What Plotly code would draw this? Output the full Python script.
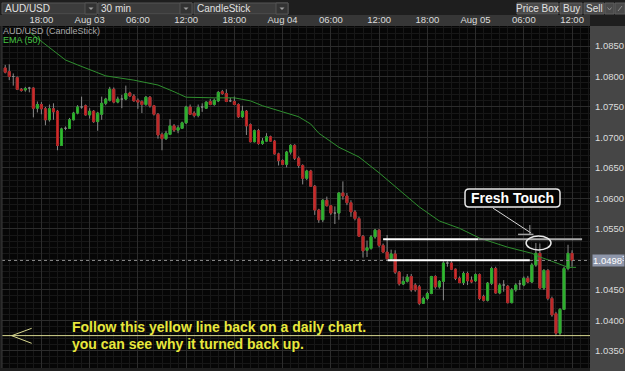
import pandas as pd
import plotly.graph_objects as go

# ---------------- data (AUD/USD, 30 min candles) ----------------
start_time = "2011-08-02 13:30"
n_bars = 142
times = pd.date_range(start_time, periods=n_bars, freq="30min")

opens = [1.0814, 1.0808, 1.0800, 1.0798, 1.0779, 1.0778, 1.0781, 1.0781, 1.0748, 1.0754,
         1.0747, 1.0729, 1.0747, 1.0743, 1.0687, 1.0715, 1.0715, 1.0729, 1.0740, 1.0750,
         1.0752, 1.0737, 1.0743, 1.0726, 1.0738, 1.0756, 1.0761, 1.0779, 1.0758, 1.0763,
         1.0763, 1.0773, 1.0768, 1.0761, 1.0759, 1.0754, 1.0766, 1.0752, 1.0738, 1.0705,
         1.0698, 1.0705, 1.0719, 1.0712, 1.0715, 1.0724, 1.0750, 1.0740, 1.0736, 1.0750,
         1.0748, 1.0759, 1.0754, 1.0760, 1.0775, 1.0772, 1.0760, 1.0759, 1.0754, 1.0734,
         1.0743, 1.0721, 1.0693, 1.0711, 1.0690, 1.0694, 1.0701, 1.0694, 1.0673, 1.0662,
         1.0656, 1.0676, 1.0687, 1.0666, 1.0654, 1.0633, 1.0645, 1.0620, 1.0581, 1.0565,
         1.0597, 1.0588, 1.0576, 1.0576, 1.0609, 1.0604, 1.0593, 1.0578, 1.0567, 1.0538,
         1.0515, 1.0518, 1.0537, 1.0548, 1.0523, 1.0512, 1.0501, 1.0509, 1.0479, 1.0460,
         1.0464, 1.0472, 1.0458, 1.0455, 1.0428, 1.0436, 1.0444, 1.0472, 1.0455, 1.0464,
         1.0494, 1.0494, 1.0484, 1.0469, 1.0462, 1.0477, 1.0466, 1.0465, 1.0475, 1.0439,
         1.0433, 1.0461, 1.0485, 1.0445, 1.0458, 1.0456, 1.0429, 1.0450, 1.0460, 1.0458,
         1.0469, 1.0463, 1.0491, 1.0510, 1.0453, 1.0482, 1.0436, 1.0411, 1.0379, 1.0418,
         1.0485, 1.0510]
highs = [1.0819, 1.0820, 1.0805, 1.0800, 1.0781, 1.0783, 1.0783, 1.0782, 1.0759, 1.0758,
         1.0750, 1.0754, 1.0756, 1.0745, 1.0716, 1.0718, 1.0732, 1.0742, 1.0753, 1.0767,
         1.0754, 1.0748, 1.0745, 1.0742, 1.0767, 1.0765, 1.0783, 1.0782, 1.0767, 1.0770,
         1.0785, 1.0775, 1.0771, 1.0764, 1.0761, 1.0768, 1.0768, 1.0753, 1.0740, 1.0708,
         1.0711, 1.0730, 1.0722, 1.0720, 1.0726, 1.0752, 1.0754, 1.0743, 1.0754, 1.0756,
         1.0759, 1.0763, 1.0764, 1.0776, 1.0778, 1.0779, 1.0765, 1.0767, 1.0756, 1.0752,
         1.0745, 1.0723, 1.0713, 1.0714, 1.0699, 1.0707, 1.0703, 1.0696, 1.0675, 1.0664,
         1.0678, 1.0689, 1.0689, 1.0669, 1.0656, 1.0647, 1.0647, 1.0622, 1.0583, 1.0599,
         1.0603, 1.0589, 1.0587, 1.0610, 1.0628, 1.0609, 1.0597, 1.0581, 1.0570, 1.0540,
         1.0531, 1.0540, 1.0550, 1.0549, 1.0526, 1.0540, 1.0516, 1.0515, 1.0481, 1.0472,
         1.0476, 1.0476, 1.0461, 1.0458, 1.0439, 1.0447, 1.0473, 1.0474, 1.0466, 1.0497,
         1.0497, 1.0497, 1.0485, 1.0472, 1.0480, 1.0480, 1.0472, 1.0477, 1.0477, 1.0442,
         1.0463, 1.0488, 1.0488, 1.0461, 1.0466, 1.0458, 1.0453, 1.0461, 1.0466, 1.0472,
         1.0473, 1.0494, 1.0527, 1.0526, 1.0484, 1.0484, 1.0439, 1.0414, 1.0420, 1.0488,
         1.0524, 1.0515]
lows = [1.0805, 1.0794, 1.0785, 1.0778, 1.0775, 1.0775, 1.0774, 1.0733, 1.0741, 1.0738,
        1.0720, 1.0726, 1.0729, 1.0679, 1.0686, 1.0712, 1.0714, 1.0728, 1.0738, 1.0747,
        1.0736, 1.0731, 1.0724, 1.0711, 1.0729, 1.0753, 1.0759, 1.0756, 1.0756, 1.0748,
        1.0761, 1.0767, 1.0759, 1.0747, 1.0740, 1.0752, 1.0749, 1.0736, 1.0698, 1.0679,
        1.0696, 1.0704, 1.0709, 1.0707, 1.0714, 1.0722, 1.0737, 1.0733, 1.0733, 1.0742,
        1.0747, 1.0753, 1.0752, 1.0758, 1.0770, 1.0758, 1.0758, 1.0753, 1.0732, 1.0732,
        1.0704, 1.0692, 1.0692, 1.0688, 1.0688, 1.0693, 1.0693, 1.0672, 1.0654, 1.0655,
        1.0651, 1.0672, 1.0663, 1.0650, 1.0623, 1.0630, 1.0619, 1.0573, 1.0560, 1.0561,
        1.0587, 1.0573, 1.0558, 1.0565, 1.0598, 1.0589, 1.0570, 1.0564, 1.0537, 1.0503,
        1.0504, 1.0516, 1.0534, 1.0520, 1.0511, 1.0500, 1.0500, 1.0476, 1.0457, 1.0458,
        1.0462, 1.0447, 1.0447, 1.0425, 1.0427, 1.0433, 1.0443, 1.0452, 1.0452, 1.0433,
        1.0488, 1.0483, 1.0466, 1.0461, 1.0458, 1.0458, 1.0461, 1.0463, 1.0433, 1.0431,
        1.0431, 1.0458, 1.0444, 1.0443, 1.0447, 1.0428, 1.0428, 1.0447, 1.0450, 1.0456,
        1.0461, 1.0461, 1.0488, 1.0451, 1.0450, 1.0433, 1.0406, 1.0376, 1.0376, 1.0417,
        1.0482, 1.0488]
closes = [1.0807, 1.0800, 1.0800, 1.0779, 1.0777, 1.0780, 1.0781, 1.0748, 1.0754, 1.0747,
          1.0729, 1.0747, 1.0742, 1.0687, 1.0714, 1.0715, 1.0729, 1.0740, 1.0750, 1.0750,
          1.0737, 1.0743, 1.0726, 1.0740, 1.0756, 1.0763, 1.0779, 1.0758, 1.0763, 1.0763,
          1.0772, 1.0768, 1.0760, 1.0758, 1.0754, 1.0766, 1.0752, 1.0738, 1.0704, 1.0698,
          1.0707, 1.0719, 1.0712, 1.0716, 1.0724, 1.0750, 1.0738, 1.0736, 1.0749, 1.0750,
          1.0758, 1.0754, 1.0761, 1.0774, 1.0772, 1.0759, 1.0760, 1.0754, 1.0734, 1.0743,
          1.0719, 1.0693, 1.0711, 1.0690, 1.0694, 1.0701, 1.0694, 1.0673, 1.0662, 1.0656,
          1.0676, 1.0687, 1.0666, 1.0654, 1.0633, 1.0645, 1.0620, 1.0581, 1.0565, 1.0597,
          1.0588, 1.0576, 1.0576, 1.0609, 1.0604, 1.0593, 1.0578, 1.0567, 1.0538, 1.0514,
          1.0519, 1.0537, 1.0548, 1.0523, 1.0512, 1.0501, 1.0509, 1.0479, 1.0460, 1.0464,
          1.0471, 1.0450, 1.0450, 1.0428, 1.0436, 1.0444, 1.0472, 1.0455, 1.0464, 1.0494,
          1.0494, 1.0484, 1.0469, 1.0462, 1.0477, 1.0465, 1.0463, 1.0475, 1.0436, 1.0433,
          1.0461, 1.0485, 1.0445, 1.0458, 1.0458, 1.0429, 1.0450, 1.0458, 1.0460, 1.0469,
          1.0463, 1.0491, 1.0510, 1.0453, 1.0482, 1.0436, 1.0409, 1.0379, 1.0418, 1.0485,
          1.0510, 1.04983]

ema_times = ["2011-08-02 16:30", "2011-08-02 19:30", "2011-08-02 21:00", "2011-08-02 22:30",
             "2011-08-03 02:00", "2011-08-03 05:30", "2011-08-03 08:30", "2011-08-03 10:30",
             "2011-08-03 12:00", "2011-08-03 15:30", "2011-08-03 18:00", "2011-08-03 20:00",
             "2011-08-03 21:30", "2011-08-04 00:00", "2011-08-04 02:00", "2011-08-04 03:30",
             "2011-08-04 04:30", "2011-08-04 07:00", "2011-08-04 09:30", "2011-08-04 12:00",
             "2011-08-04 14:30", "2011-08-04 17:00", "2011-08-04 19:30", "2011-08-04 22:00",
             "2011-08-05 00:30", "2011-08-05 04:00", "2011-08-05 07:00", "2011-08-05 08:00",
             "2011-08-05 09:30", "2011-08-05 11:30", "2011-08-05 12:30"]
ema_values = [1.0873, 1.0843, 1.0827, 1.0819, 1.0801, 1.0794, 1.0786, 1.0775,
              1.0766, 1.0765, 1.0765, 1.0760, 1.0752, 1.0742, 1.0734, 1.0722,
              1.0707, 1.0684, 1.0668, 1.0642, 1.0614, 1.0586, 1.0563, 1.0551,
              1.0535, 1.0520, 1.0510, 1.0504, 1.0497, 1.0487, 1.0487]

x_tick_times = ["2011-08-02 18:00", "2011-08-03 00:00", "2011-08-03 06:00", "2011-08-03 12:00",
                "2011-08-03 18:00", "2011-08-04 00:00", "2011-08-04 06:00", "2011-08-04 12:00",
                "2011-08-04 18:00", "2011-08-05 00:00", "2011-08-05 06:00", "2011-08-05 12:00"]
x_tick_labels = ["18:00", "Aug 03", "06:00", "12:00", "18:00", "Aug 04", "06:00", "12:00",
                 "18:00", "Aug 05", "06:00", "12:00"]
y_tick_values = [1.035, 1.040, 1.045, 1.055, 1.060, 1.065, 1.070, 1.075, 1.080, 1.085]

support_level = 1.0375      # yellow line
upper_level = 1.0533        # upper white line
lower_level = 1.04985       # lower white line

# ---------------- figure ----------------
FONT = "Liberation Sans, Arial, sans-serif"
W, H = 625, 371
ML, MR, MT, MB = 2, 35, 26, 3
PW, PH = W - ML - MR, H - MT - MB


def X(px):
    return (px - ML) / PW


def Y(py):
    return (H - MB - py) / PH


fig = go.Figure()

# wicks (grey) with full range
fig.add_trace(go.Candlestick(
    x=times, open=opens, high=highs, low=lows, close=closes,
    increasing=dict(line=dict(color="#8a8a8a", width=1), fillcolor="#8a8a8a"),
    decreasing=dict(line=dict(color="#8a8a8a", width=1), fillcolor="#8a8a8a"),
    whiskerwidth=0, hoverinfo="skip", showlegend=False,
))

# coloured bodies
bx, bo, bh, bl, bc = [], [], [], [], []
for t, o, c in zip(times, opens, closes):
    if o != c:
        bx.append(t); bo.append(o); bc.append(c)
        bh.append(max(o, c)); bl.append(min(o, c))
fig.add_trace(go.Candlestick(
    x=bx, open=bo, high=bh, low=bl, close=bc,
    increasing=dict(line=dict(color="#26a626", width=1), fillcolor="#34bc34"),
    decreasing=dict(line=dict(color="#b02020", width=1), fillcolor="#d03030"),
    whiskerwidth=0, showlegend=False, name="AUD/USD",
))

fig.add_trace(go.Scatter(
    x=ema_times, y=ema_values, mode="lines",
    line=dict(color="#2f8f2f", width=1), showlegend=False, hoverinfo="skip",
))

shapes = []
# backgrounds outside plot
shapes.append(dict(type="rect", xref="paper", yref="paper", x0=X(0), x1=X(590), y0=Y(26), y1=Y(15),
                   fillcolor="#363636", line=dict(width=0), layer="below"))
shapes.append(dict(type="rect", xref="paper", yref="paper", x0=X(590), x1=X(626), y0=Y(372), y1=Y(26),
                   fillcolor="#464646", line=dict(width=0), layer="below"))
# dropdowns with small arrow
for x0, x1 in [(2, 97), (98, 192), (194, 288)]:
    shapes.append(dict(type="rect", xref="paper", yref="paper", x0=X(x0), x1=X(x1), y0=Y(14), y1=Y(3),
                       fillcolor="#3c3c3c", line=dict(color="#555555", width=1), layer="below"))
    shapes.append(dict(type="rect", xref="paper", yref="paper", x0=X(x1 - 12), x1=X(x1), y0=Y(14), y1=Y(3),
                       fillcolor="#333333", line=dict(color="#555555", width=1), layer="below"))
    cx = x1 - 6
    shapes.append(dict(type="path", xref="paper", yref="paper",
                       path=f"M {X(cx-2.5)},{Y(7.5)} L {X(cx+2.5)},{Y(7.5)} L {X(cx)},{Y(10)} Z",
                       fillcolor="#a0a0a0", line=dict(width=0), layer="below"))
# buttons
for x0, x1 in [(517, 558), (560, 582), (584, 604), (605, 614), (615, 625)]:
    shapes.append(dict(type="rect", xref="paper", yref="paper", x0=X(x0), x1=X(x1), y0=Y(14), y1=Y(3),
                       fillcolor="#4a4a4a", line=dict(color="#5e5e5e", width=1), layer="below"))
# small icons in the last two buttons
shapes.append(dict(type="path", xref="paper", yref="paper",
                   path=f"M {X(607.5)},{Y(7.5)} L {X(609.5)},{Y(10)} L {X(611.5)},{Y(7.5)}",
                   line=dict(color="#8a8a8a", width=1), layer="below"))
shapes.append(dict(type="line", xref="paper", yref="paper", x0=X(618), y0=Y(11), x1=X(622), y1=Y(6),
                   line=dict(color="#8a8a8a", width=1), layer="below"))

# price lines
shapes.append(dict(type="line", xref="paper", yref="y", x0=0, x1=1, y0=closes[-1], y1=closes[-1],
                   line=dict(color="#8c8c8c", width=1, dash="3px,3px")))
shapes.append(dict(type="line", xref="paper", yref="y", x0=0, x1=1, y0=support_level, y1=support_level,
                   line=dict(color="#d8d890", width=1)))
shapes.append(dict(type="line", xref="x", yref="y", x0="2011-08-04 12:30", x1="2011-08-05 00:20",
                   y0=upper_level, y1=upper_level, line=dict(color="#ffffff", width=2)))
shapes.append(dict(type="line", xref="x", yref="y", x0="2011-08-05 00:20", x1="2011-08-05 13:15",
                   y0=upper_level, y1=upper_level, line=dict(color="#a8a8a8", width=2)))
shapes.append(dict(type="line", xref="x", yref="y", x0="2011-08-04 13:05", x1="2011-08-05 06:45",
                   y0=lower_level, y1=lower_level, line=dict(color="#ffffff", width=2)))
# ellipse
shapes.append(dict(type="circle", xref="x", yref="y", x0="2011-08-05 06:17", x1="2011-08-05 09:23",
                   y0=1.05154, y1=1.05384, line=dict(color="#e8e8e8", width=1.5)))
# arrow from label
shapes.append(dict(type="line", xref="x", yref="y", x0="2011-08-05 02:09", x1="2011-08-05 06:54",
                   y0=1.05843, y1=1.05433, line=dict(color="#d8d8d8", width=1)))
shapes.append(dict(type="line", xref="x", yref="y", x0="2011-08-05 05:17", x1="2011-08-05 07:12",
                   y0=1.0541, y1=1.0541, line=dict(color="#a0a0a0", width=1.5)))
shapes.append(dict(type="line", xref="x", yref="y", x0="2011-08-05 06:45", x1="2011-08-05 06:45",
                   y0=1.05564, y1=1.0541, line=dict(color="#a0a0a0", width=1)))
# Fresh Touch rounded box
x0, x1, yb, yt = X(465), X(560), Y(207), Y(189)
rx, ry = 4 / PW, 4 / PH
path = (f"M {x0+rx},{yt} L {x1-rx},{yt} Q {x1},{yt} {x1},{yt-ry} L {x1},{yb+ry} Q {x1},{yb} {x1-rx},{yb} "
        f"L {x0+rx},{yb} Q {x0},{yb} {x0},{yb+ry} L {x0},{yt-ry} Q {x0},{yt} {x0+rx},{yt} Z")
shapes.append(dict(type="path", xref="paper", yref="paper", path=path, fillcolor="#050505",
                   line=dict(color="#e8e8e8", width=1.5)))
# yellow "<" arrow at left
shapes.append(dict(type="line", xref="paper", yref="paper", x0=X(11.7), y0=Y(335.7), x1=X(31.7), y1=Y(328.3),
                   line=dict(color="#d8d890", width=1)))
shapes.append(dict(type="line", xref="paper", yref="paper", x0=X(11.7), y0=Y(335.7), x1=X(31.7), y1=Y(343.3),
                   line=dict(color="#d8d890", width=1)))
# left border
shapes.append(dict(type="line", xref="paper", yref="paper", x0=0, x1=0, y0=0, y1=1,
                   line=dict(color="#3a3a3a", width=1)))

annotations = []


def ann(text, px, py, size=9.5, color="#e0e0e0", anchor="left", weight="normal", **kw):
    annotations.append(dict(text=text, xref="paper", yref="paper", x=X(px), y=Y(py),
                            xanchor=anchor, yanchor="middle", showarrow=False,
                            font=dict(family=FONT, size=size, color=color, weight=weight), **kw))


ann("AUD/USD", 3, 8.5, size=10)
ann("30 min", 99, 8.5, size=10)
ann("CandleStick", 195, 8.5, size=10)
ann("Price Box", 537.5, 8.5, size=10, anchor="center")
ann("Buy", 571, 8.5, size=10, anchor="center")
ann("Sell", 594, 8.5, size=10, anchor="center")

ann("AUD/USD (CandleStick)", 1.5, 30.5, size=9, color="#a8a8a8", borderpad=0)
ann("EMA (50)", 1.5, 40.5, size=9, color="#44c444", borderpad=0)

ann("Follow this yellow line back on a daily chart.", 70, 327, size=14, color="#e8e83c", weight="bold")
ann("you can see why it turned back up.", 70, 343.5, size=14, color="#e8e83c", weight="bold")
ann("Fresh Touch", 512.5, 198, size=14, color="#ffffff", anchor="center", weight="bold")

last = f"{closes[-1]:.5f}"
annotations.append(dict(text=f"{last[:-1]}<sup>{last[-1]}</sup>", xref="paper", yref="y", x=1, y=closes[-1],
                        xanchor="left", yanchor="middle", xshift=2, showarrow=False,
                        bgcolor="#8e96aa", borderpad=0, width=31, height=11, align="left",
                        font=dict(family=FONT, size=9.5, color="#ffffff")))

fig.update_layout(
    width=W, height=H,
    margin=dict(l=ML, r=MR, t=MT, b=MB),
    paper_bgcolor="#1e1e1e",
    plot_bgcolor="#060606",
    showlegend=False,
    shapes=shapes,
    annotations=annotations,
    xaxis=dict(
        type="date", range=["2011-08-02 13:06", "2011-08-05 14:14"], side="top",
        tickmode="array", tickvals=x_tick_times, ticktext=x_tick_labels,
        showgrid=True, gridcolor="#2c2c2c", gridwidth=1, ticks="", zeroline=False, showline=False,
        tickfont=dict(family=FONT, size=9.5, color="#dcdcdc"),
        rangeslider=dict(visible=False),
        minor=dict(tickmode="linear", tick0="2011-08-03", dtick=3600000, showgrid=True,
                   gridcolor="#171717", ticks=""),
        fixedrange=True,
    ),
    yaxis=dict(
        range=[1.03219, 1.08828], side="right",
        tickmode="array", tickvals=y_tick_values, ticktext=[f"{v:.4f}" for v in y_tick_values],
        showgrid=True, gridcolor="#2c2c2c", ticks="", zeroline=False, showline=False,
        tickfont=dict(family=FONT, size=9.5, color="#dcdcdc"),
        ticklabelstandoff=4,
        minor=dict(tickmode="linear", tick0=1.035, dtick=0.001, showgrid=True,
                   gridcolor="#171717", ticks=""),
        fixedrange=True,
    ),
)

fig.write_html("out.html")
